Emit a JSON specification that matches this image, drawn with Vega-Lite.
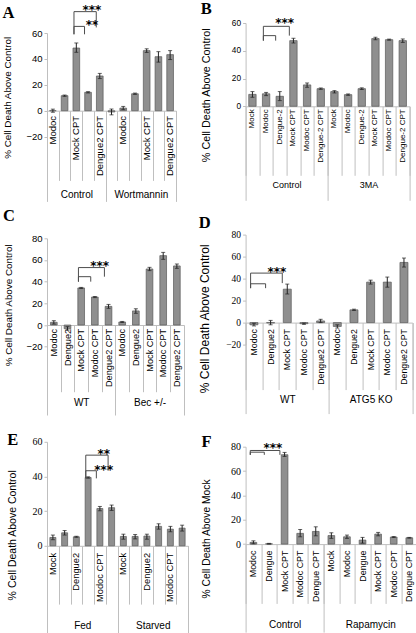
{
  "$schema": "https://vega.github.io/schema/vega-lite/v6.json",
  "background": "white",
  "padding": {"left": 2, "top": 0, "right": 0, "bottom": 0},
  "spacing": 9.6,
  "datasets": {
    "A": [
      {"k": "Control|Modoc", "v": 0, "lo": -1.2, "hi": 1.2},
      {"k": "Control|Dengue2", "v": 11.6, "lo": 11.1, "hi": 12.1},
      {"k": "Control|Mock CPT", "v": 48.4, "lo": 45.1, "hi": 52.3},
      {"k": "Control|Modoc CPT", "v": 14.2, "lo": 13.7, "hi": 14.7},
      {"k": "Control|Dengue2 CPT", "v": 26.8, "lo": 24.8, "hi": 28.8},
      {"k": "Wortmannin|Mock", "v": -1, "lo": -3.2, "hi": 1.3},
      {"k": "Wortmannin|Modoc", "v": 2, "lo": 0.8, "hi": 3.3},
      {"k": "Wortmannin|Dengue2", "v": 13.1, "lo": 12.6, "hi": 13.6},
      {"k": "Wortmannin|Mock CPT", "v": 46.4, "lo": 45, "hi": 47.8},
      {"k": "Wortmannin|Modoc CPT", "v": 41.7, "lo": 37.5, "hi": 45.6},
      {"k": "Wortmannin|Dengue2 CPT", "v": 43.3, "lo": 39.5, "hi": 46.4}
    ],
    "Abr": [
      {"from": "Control|Mock CPT", "to": "Control|Dengue2 CPT", "at": "Control|Dengue2 CPT", "top": 76.5, "lb": 59, "rb": 64.3, "s": "***"},
      {"from": "Control|Mock CPT", "to": "Control|Modoc CPT", "at": "Control|Dengue2 CPT", "top": 65.1, "lb": 59, "rb": 59, "s": "**"}
    ],
    "B": [
      {"k": "Control|Mock", "v": 8.6, "lo": 6.5, "hi": 10.6},
      {"k": "Control|Modoc", "v": 9, "lo": 7.7, "hi": 10},
      {"k": "Control|Dengue-2", "v": 7.2, "lo": 4.1, "hi": 10.6},
      {"k": "Control|Mock CPT", "v": 47.3, "lo": 45.6, "hi": 49},
      {"k": "Control|Modoc CPT", "v": 15.4, "lo": 13.7, "hi": 16.8},
      {"k": "Control|Dengue-2 CPT", "v": 12.7, "lo": 12.2, "hi": 13.2},
      {"k": "3MA|Mock", "v": 10.6, "lo": 9.6, "hi": 11.3},
      {"k": "3MA|Modoc", "v": 8.4, "lo": 7.9, "hi": 8.9},
      {"k": "3MA|Dengue-2", "v": 12.7, "lo": 12.1, "hi": 13.3},
      {"k": "3MA|Mock CPT", "v": 48.8, "lo": 48, "hi": 49.7},
      {"k": "3MA|Modoc CPT", "v": 48, "lo": 47.6, "hi": 48.4},
      {"k": "3MA|Dengue-2 CPT", "v": 47.3, "lo": 46, "hi": 48.5}
    ],
    "Bbr": [
      {"from": "Control|Modoc", "to": "Control|Mock CPT", "at": "Control|Mock CPT", "top": 57.6, "lb": 47.3, "rb": 50.9, "s": "***"},
      {"from": "Control|Modoc", "to": "Control|Dengue-2", "at": "Control|Mock CPT", "top": 50.9, "lb": 47.3, "rb": 47.3, "s": ""}
    ],
    "C": [
      {"k": "WT|Modoc", "v": 2.5, "lo": 0.9, "hi": 4},
      {"k": "WT|Dengue2", "v": -3.4, "lo": -4.6, "hi": -1.5},
      {"k": "WT|Mock CPT", "v": 34.2, "lo": 33.7, "hi": 34.7},
      {"k": "WT|Modoc CPT", "v": 25.8, "lo": 25.3, "hi": 26.3},
      {"k": "WT|Dengue2 CPT", "v": 17.2, "lo": 15.4, "hi": 19},
      {"k": "Bec +/-|Modoc", "v": 2.8, "lo": 2.3, "hi": 3.3},
      {"k": "Bec +/-|Dengue2", "v": 13, "lo": 10.8, "hi": 15},
      {"k": "Bec +/-|Mock CPT", "v": 51.7, "lo": 50.2, "hi": 53.2},
      {"k": "Bec +/-|Modoc CPT", "v": 64, "lo": 60.6, "hi": 67},
      {"k": "Bec +/-|Dengue2 CPT", "v": 54.5, "lo": 52.3, "hi": 56.3}
    ],
    "Cbr": [
      {"from": "WT|Mock CPT", "to": "WT|Dengue2 CPT", "at": "WT|Dengue2 CPT", "top": 53, "lb": 40, "rb": 44.6, "s": "***"},
      {"from": "WT|Mock CPT", "to": "WT|Modoc CPT", "at": "WT|Dengue2 CPT", "top": 44.6, "lb": 40, "rb": 40, "s": ""}
    ],
    "D": [
      {"k": "WT|Modoc", "v": -2, "lo": -3, "hi": -0.6},
      {"k": "WT|Dengue2", "v": -0.3, "lo": -2, "hi": 2},
      {"k": "WT|Mock CPT", "v": 30.4, "lo": 26, "hi": 35},
      {"k": "WT|Modoc CPT", "v": -1, "lo": -1.6, "hi": -0.4},
      {"k": "WT|Dengue2 CPT", "v": 1.5, "lo": 0, "hi": 3},
      {"k": "ATG5 KO|Modoc", "v": -3.5, "lo": -5, "hi": -2},
      {"k": "ATG5 KO|Dengue2", "v": 11.6, "lo": 11, "hi": 12.2},
      {"k": "ATG5 KO|Mock CPT", "v": 36.8, "lo": 35, "hi": 38.6},
      {"k": "ATG5 KO|Modoc CPT", "v": 36.8, "lo": 32.2, "hi": 41.4},
      {"k": "ATG5 KO|Dengue2 CPT", "v": 54.7, "lo": 50.5, "hi": 58.7}
    ],
    "Dbr": [
      {"from": "WT|Modoc", "to": "WT|Mock CPT", "at": "WT|Mock CPT", "top": 45, "lb": 31.3, "rb": 35.9, "s": "***"},
      {"from": "WT|Modoc", "to": "WT|Dengue2", "at": "WT|Mock CPT", "top": 35.3, "lb": 31.3, "rb": 31.3, "s": ""}
    ],
    "E": [
      {"k": "Fed|Mock", "v": 4.8, "lo": 3.5, "hi": 6.2},
      {"k": "Fed|Modoc", "v": 7.5, "lo": 6.2, "hi": 8.8},
      {"k": "Fed|Dengue2", "v": 5.2, "lo": 4.9, "hi": 5.5},
      {"k": "Fed|Mock CPT", "v": 39.4, "lo": 39, "hi": 39.8},
      {"k": "Fed|Modoc CPT", "v": 21.5, "lo": 20.2, "hi": 22.7},
      {"k": "Fed|Dengue2 CPT", "v": 22, "lo": 20.4, "hi": 23.5},
      {"k": "Starved|Mock", "v": 5.4, "lo": 3.8, "hi": 6.7},
      {"k": "Starved|Modoc", "v": 5.4, "lo": 4, "hi": 6.5},
      {"k": "Starved|Dengue2", "v": 5.6, "lo": 3.8, "hi": 6.7},
      {"k": "Starved|Mock CPT", "v": 11.2, "lo": 9.6, "hi": 12.7},
      {"k": "Starved|Modoc CPT", "v": 9.6, "lo": 8.1, "hi": 11.2},
      {"k": "Starved|Dengue2 CPT", "v": 10.2, "lo": 8.5, "hi": 11.9}
    ],
    "Ebr": [
      {"from": "Fed|Mock CPT", "to": "Fed|Dengue2 CPT", "at": "Fed|Dengue2 CPT", "top": 52.3, "lb": 38.9, "rb": 43.3, "s": "**"},
      {"from": "Fed|Mock CPT", "to": "Fed|Modoc CPT", "at": "Fed|Dengue2 CPT", "top": 43.3, "lb": 38.9, "rb": 38.9, "s": "***"}
    ],
    "F": [
      {"k": "Control|Modoc", "v": 1.4, "lo": 0.3, "hi": 2.7},
      {"k": "Control|Dengue", "v": 0.3, "lo": 0, "hi": 0.6},
      {"k": "Control|Mock CPT", "v": 73.4, "lo": 72, "hi": 75.3},
      {"k": "Control|Modoc CPT", "v": 8.8, "lo": 6, "hi": 12},
      {"k": "Control|Dengue CPT", "v": 10.4, "lo": 6.8, "hi": 14.2},
      {"k": "Rapamycin|Mock", "v": 7, "lo": 4.7, "hi": 9.3},
      {"k": "Rapamycin|Modoc", "v": 6, "lo": 4.7, "hi": 7.4},
      {"k": "Rapamycin|Dengue", "v": 3.3, "lo": 0.8, "hi": 5.5},
      {"k": "Rapamycin|Mock CPT", "v": 8.2, "lo": 6.8, "hi": 9.6},
      {"k": "Rapamycin|Modoc CPT", "v": 5.8, "lo": 5.4, "hi": 6.2},
      {"k": "Rapamycin|Dengue CPT", "v": 5.2, "lo": 4.9, "hi": 5.5}
    ],
    "Fbr": [
      {"from": "Control|Modoc", "to": "Control|Mock CPT", "at": "Control|Mock CPT", "top": 76.9, "lb": 73.3, "rb": 73.3, "s": "***"},
      {"from": "Control|Modoc", "to": "Control|Dengue", "at": "Control|Mock CPT", "top": 75.5, "lb": 73.3, "rb": 73.3, "s": ""}
    ]
  },
  "hconcat": [
    {
      "spacing": 5.3,
      "vconcat": [
        {
          "title": {"text": "A", "offset": -17.7},
          "width": 129, "height": 103.6,
          "resolve": {"axis": {"x": "independent", "y": "independent"}},
          "layer": [
            {"data": {"name": "A"},
             "mark": {"type": "bar", "width": {"band": 0.57}, "fill": "#8f8f8f", "stroke": "#595959", "strokeWidth": 0.7},
             "encoding": {
               "x": {"field": "k", "type": "nominal",
                 "scale": {"domain": ["Control|Modoc","Control|Dengue2","Control|Mock CPT","Control|Modoc CPT","Control|Dengue2 CPT","Wortmannin|Mock","Wortmannin|Modoc","Wortmannin|Dengue2","Wortmannin|Mock CPT","Wortmannin|Modoc CPT","Wortmannin|Dengue2 CPT"], "paddingInner": 0, "paddingOuter": 0},
                 "axis": {"title": null, "orient": "bottom", "offset": -25.9, "ticks": false, "labelAngle": -90, "labelPadding": 4.7, "labelFontSize": 9.5,
                   "labelExpr": "indexof(['Control|Dengue2','Control|Modoc CPT','Wortmannin|Mock','Wortmannin|Dengue2','Wortmannin|Modoc CPT'], datum.value) >= 0 ? '' : split(datum.value, '|')[1]"}},
               "y": {"field": "v", "type": "quantitative", "scale": {"domain": [-20, 60], "nice": false},
                 "axis": {"title": "% Cell Death Above Control", "orient": "left", "values": [-20, 0, 20, 40, 60], "tickSize": 3, "labelPadding": 2, "labelFontSize": 9.5, "titleFontSize": 9.85, "titleY": 64.3, "titlePadding": 13.5}}
             }},
            {"data": {"name": "A"},
             "mark": {"type": "errorbar", "ticks": {"size": 4}, "color": "#222222"},
             "encoding": {
               "x": {"field": "k", "type": "nominal", "axis": {"title": null, "orient": "bottom", "offset": -25.9, "labels": false, "domain": false, "tickBand": "extent", "tickSize": 69.7}},
               "y": {"field": "lo", "type": "quantitative", "axis": null},
               "y2": {"field": "hi"}
             }},
            {"data": {"name": "Abr"},
             "mark": {"type": "rule", "color": "#4d4d4d"},
             "encoding": {
               "x": {"field": "from", "type": "nominal", "bandPosition": 0.3, "axis": null},
               "x2": {"field": "to", "bandPosition": 0.2},
               "y": {"field": "top", "type": "quantitative", "axis": null}
             }},
            {"data": {"name": "Abr"},
             "mark": {"type": "rule", "color": "#4d4d4d"},
             "encoding": {
               "x": {"field": "from", "type": "nominal", "bandPosition": 0.3, "axis": null},
               "y": {"field": "top", "type": "quantitative", "axis": null},
               "y2": {"field": "lb"}
             }},
            {"data": {"name": "Abr"},
             "mark": {"type": "rule", "color": "#4d4d4d"},
             "encoding": {
               "x": {"field": "to", "type": "nominal", "bandPosition": 0.2, "axis": null},
               "y": {"field": "top", "type": "quantitative", "axis": null},
               "y2": {"field": "rb"}
             }},
            {"data": {"name": "Abr"},
             "mark": {"type": "text", "font": "DejaVu Sans", "fontSize": 12, "fontWeight": "bold", "baseline": "alphabetic", "align": "center", "dy": 2.4, "dx": -2, "fill": "#000000"},
             "encoding": {
               "x": {"field": "at", "type": "nominal", "bandPosition": 0,
                 "axis": {"title": null, "orient": "bottom", "offset": -25.9, "domain": false, "tickBand": "extent", "tickSize": 90.7,
                   "tickOpacity": {"condition": {"test": "datum.index < 0 || !isValid(datum.value) || datum.value === 'Control|Dengue2 CPT' || datum.value === 'Wortmannin|Dengue2 CPT'", "value": 1}, "value": 0},
                   "labelAngle": 0, "labelAlign": "center", "labelBaseline": "top", "labelPadding": -12, "labelFontSize": 10,
                   "labelOffset": {"condition": {"test": "datum.value === 'Wortmannin|Mock CPT'", "value": -5.86}, "value": 0},
                   "labelExpr": "indexof(['Control|Mock CPT','Wortmannin|Mock CPT'], datum.value) >= 0 ? split(datum.value, '|')[0] : ''"}},
               "y": {"field": "top", "type": "quantitative", "axis": null},
               "text": {"field": "s"}
             }}
          ]
        },
        {
          "spacing": 15.5,
          "vconcat": [
            {
              "title": {"text": "C", "offset": 9.05},
              "width": 136.7, "height": 108.4,
              "resolve": {"axis": {"x": "independent", "y": "independent"}},
              "layer": [
                {"data": {"name": "C"},
                 "mark": {"type": "bar", "width": {"band": 0.49}, "fill": "#8f8f8f", "stroke": "#595959", "strokeWidth": 0.7},
                 "encoding": {
                   "x": {"field": "k", "type": "nominal",
                     "scale": {"domain": ["WT|Modoc","WT|Dengue2","WT|Mock CPT","WT|Modoc CPT","WT|Dengue2 CPT","Bec +/-|Modoc","Bec +/-|Dengue2","Bec +/-|Mock CPT","Bec +/-|Modoc CPT","Bec +/-|Dengue2 CPT"], "paddingInner": 0, "paddingOuter": 0},
                     "axis": {"title": null, "orient": "bottom", "offset": -21.7, "ticks": false, "labelAngle": -90, "labelPadding": 3.3, "labelFontSize": 9.2,
                       "labelExpr": "split(datum.value, '|')[1]"}},
                   "y": {"field": "v", "type": "quantitative", "scale": {"domain": [-20, 80], "nice": false},
                     "axis": {"title": "% Cell Death Above Control", "orient": "left", "values": [-20, 0, 20, 40, 60, 80], "tickSize": 3, "labelPadding": 2, "labelFontSize": 9.5, "titleFontSize": 9.85, "titleY": 66.5, "titlePadding": 12.8}}
                 }},
                {"data": {"name": "C"},
                 "mark": {"type": "errorbar", "ticks": {"size": 4}, "color": "#222222"},
                 "encoding": {
                   "x": {"field": "k", "type": "nominal", "axis": {"title": null, "orient": "bottom", "offset": -21.7, "labels": false, "domain": false, "tickBand": "extent", "tickSize": 66.7}},
                   "y": {"field": "lo", "type": "quantitative", "axis": null},
                   "y2": {"field": "hi"}
                 }},
                {"data": {"name": "Cbr"},
                 "mark": {"type": "rule", "color": "#4d4d4d"},
                 "encoding": {
                   "x": {"field": "from", "type": "nominal", "bandPosition": 0.3, "axis": null},
                   "x2": {"field": "to", "bandPosition": 0.2},
                   "y": {"field": "top", "type": "quantitative", "axis": null}
                 }},
                {"data": {"name": "Cbr"},
                 "mark": {"type": "rule", "color": "#4d4d4d"},
                 "encoding": {
                   "x": {"field": "from", "type": "nominal", "bandPosition": 0.3, "axis": null},
                   "y": {"field": "top", "type": "quantitative", "axis": null},
                   "y2": {"field": "lb"}
                 }},
                {"data": {"name": "Cbr"},
                 "mark": {"type": "rule", "color": "#4d4d4d"},
                 "encoding": {
                   "x": {"field": "to", "type": "nominal", "bandPosition": 0.2, "axis": null},
                   "y": {"field": "top", "type": "quantitative", "axis": null},
                   "y2": {"field": "rb"}
                 }},
                {"data": {"name": "Cbr"},
                 "mark": {"type": "text", "font": "DejaVu Sans", "fontSize": 12, "fontWeight": "bold", "baseline": "alphabetic", "align": "center", "dy": 2, "dx": -2, "fill": "#000000"},
                 "encoding": {
                   "x": {"field": "at", "type": "nominal", "bandPosition": 0,
                     "axis": {"title": null, "orient": "bottom", "offset": -21.7, "domain": false, "tickBand": "extent", "tickSize": 90,
                       "tickOpacity": {"condition": {"test": "datum.index < 0 || !isValid(datum.value) || datum.value === 'WT|Dengue2 CPT' || datum.value === 'Bec +/-|Dengue2 CPT'", "value": 1}, "value": 0},
                       "labelAngle": 0, "labelAlign": "center", "labelBaseline": "top", "labelPadding": -17.3, "labelFontSize": 10,
                       "labelExpr": "indexof(['WT|Mock CPT','Bec +/-|Mock CPT'], datum.value) >= 0 ? split(datum.value, '|')[0] : ''"}},
                   "y": {"field": "top", "type": "quantitative", "axis": null},
                   "text": {"field": "s"}
                 }}
              ]
            },
            {
              "title": {"text": "E", "offset": -11.8},
              "width": 141, "height": 104,
              "resolve": {"axis": {"x": "independent", "y": "independent"}},
              "layer": [
                {"data": {"name": "E"},
                 "mark": {"type": "bar", "width": {"band": 0.51}, "fill": "#8f8f8f", "stroke": "#595959", "strokeWidth": 0.7},
                 "encoding": {
                   "x": {"field": "k", "type": "nominal",
                     "scale": {"domain": ["Fed|Mock","Fed|Modoc","Fed|Dengue2","Fed|Mock CPT","Fed|Modoc CPT","Fed|Dengue2 CPT","Starved|Mock","Starved|Modoc","Starved|Dengue2","Starved|Mock CPT","Starved|Modoc CPT","Starved|Dengue2 CPT"], "paddingInner": 0, "paddingOuter": 0},
                     "axis": {"title": null, "orient": "bottom", "offset": 0, "ticks": false, "labelAngle": -90, "labelPadding": 6.6, "labelFontSize": 9.3,
                       "labelExpr": "indexof(['Fed|Modoc','Fed|Mock CPT','Fed|Dengue2 CPT','Starved|Modoc','Starved|Mock CPT','Starved|Dengue2 CPT'], datum.value) >= 0 ? '' : split(datum.value, '|')[1]"}},
                   "y": {"field": "v", "type": "quantitative", "scale": {"domain": [0, 60], "nice": false},
                     "axis": {"title": "% Cell Death Above Control", "orient": "left", "values": [0, 20, 40, 60], "tickSize": 3, "labelPadding": 2, "labelFont": "Liberation Serif", "labelFontSize": 10, "titleFontSize": 10.5, "titleY": 93, "titlePadding": 14.8}}
                 }},
                {"data": {"name": "E"},
                 "mark": {"type": "errorbar", "ticks": {"size": 4}, "color": "#222222"},
                 "encoding": {
                   "x": {"field": "k", "type": "nominal", "axis": {"title": null, "orient": "bottom", "offset": 0, "labels": false, "domain": false, "tickBand": "extent", "tickSize": 58.3}},
                   "y": {"field": "lo", "type": "quantitative", "axis": null},
                   "y2": {"field": "hi"}
                 }},
                {"data": {"name": "Ebr"},
                 "mark": {"type": "rule", "color": "#4d4d4d"},
                 "encoding": {
                   "x": {"field": "from", "type": "nominal", "bandPosition": 0.3, "axis": null},
                   "x2": {"field": "to", "bandPosition": 0.2},
                   "y": {"field": "top", "type": "quantitative", "axis": null}
                 }},
                {"data": {"name": "Ebr"},
                 "mark": {"type": "rule", "color": "#4d4d4d"},
                 "encoding": {
                   "x": {"field": "from", "type": "nominal", "bandPosition": 0.3, "axis": null},
                   "y": {"field": "top", "type": "quantitative", "axis": null},
                   "y2": {"field": "lb"}
                 }},
                {"data": {"name": "Ebr"},
                 "mark": {"type": "rule", "color": "#4d4d4d"},
                 "encoding": {
                   "x": {"field": "to", "type": "nominal", "bandPosition": 0.2, "axis": null},
                   "y": {"field": "top", "type": "quantitative", "axis": null},
                   "y2": {"field": "rb"}
                 }},
                {"data": {"name": "Ebr"},
                 "mark": {"type": "text", "font": "DejaVu Sans", "fontSize": 12, "fontWeight": "bold", "baseline": "alphabetic", "align": "center", "dy": 3, "dx": -2, "fill": "#000000"},
                 "encoding": {
                   "x": {"field": "at", "type": "nominal", "bandPosition": 0,
                     "axis": {"title": null, "orient": "bottom", "offset": 0, "domain": false, "tickBand": "extent", "tickSize": 90,
                       "tickOpacity": {"condition": {"test": "datum.index < 0 || !isValid(datum.value) || datum.value === 'Fed|Dengue2 CPT' || datum.value === 'Starved|Dengue2 CPT'", "value": 1}, "value": 0},
                       "labelAngle": 0, "labelAlign": "center", "labelBaseline": "top", "labelPadding": -15.4, "labelFontSize": 10,
                       "labelOffset": -5.875,
                       "labelExpr": "indexof(['Fed|Mock CPT','Starved|Mock CPT'], datum.value) >= 0 ? split(datum.value, '|')[0] : ''"}},
                   "y": {"field": "top", "type": "quantitative", "axis": null},
                   "text": {"field": "s"}
                 }}
              ]
            }
          ]
        }
      ]
    },
    {
      "spacing": 13.6,
      "vconcat": [
        {
          "title": {"text": "B", "offset": 0.1},
          "width": 164, "height": 73.3,
          "resolve": {"axis": {"x": "independent", "y": "independent"}},
          "layer": [
            {"data": {"name": "B"},
             "mark": {"type": "bar", "width": {"band": 0.54}, "fill": "#8f8f8f", "stroke": "#595959", "strokeWidth": 0.7},
             "encoding": {
               "x": {"field": "k", "type": "nominal",
                 "scale": {"domain": ["Control|Mock","Control|Modoc","Control|Dengue-2","Control|Mock CPT","Control|Modoc CPT","Control|Dengue-2 CPT","3MA|Mock","3MA|Modoc","3MA|Dengue-2","3MA|Mock CPT","3MA|Modoc CPT","3MA|Dengue-2 CPT"], "paddingInner": 0, "paddingOuter": 0},
                 "axis": {"title": null, "orient": "bottom", "offset": 0, "ticks": false, "labelAngle": -90, "labelPadding": 2.5, "labelFontSize": 8,
                   "labelExpr": "split(datum.value, '|')[1]"}},
               "y": {"field": "v", "type": "quantitative", "scale": {"domain": [0, 60], "nice": false, "range": [73.3, -10]},
                 "axis": {"title": "% Cell Death Above Control", "orient": "left", "values": [0, 20, 40, 60], "tickSize": 3, "labelPadding": 2, "labelFontSize": 8.3, "titleFontSize": 10.8, "titleY": 61.8, "titlePadding": 19.7}}
             }},
            {"data": {"name": "B"},
             "mark": {"type": "errorbar", "ticks": {"size": 4}, "color": "#222222"},
             "encoding": {
               "x": {"field": "k", "type": "nominal", "axis": {"title": null, "orient": "bottom", "offset": 0, "labels": false, "domain": false, "tickBand": "extent", "tickSize": 69}},
               "y": {"field": "lo", "type": "quantitative", "axis": null},
               "y2": {"field": "hi"}
             }},
            {"data": {"name": "Bbr"},
             "mark": {"type": "rule", "color": "#4d4d4d"},
             "encoding": {
               "x": {"field": "from", "type": "nominal", "bandPosition": 0.3, "axis": null},
               "x2": {"field": "to", "bandPosition": 0.2},
               "y": {"field": "top", "type": "quantitative", "axis": null}
             }},
            {"data": {"name": "Bbr"},
             "mark": {"type": "rule", "color": "#4d4d4d"},
             "encoding": {
               "x": {"field": "from", "type": "nominal", "bandPosition": 0.3, "axis": null},
               "y": {"field": "top", "type": "quantitative", "axis": null},
               "y2": {"field": "lb"}
             }},
            {"data": {"name": "Bbr"},
             "mark": {"type": "rule", "color": "#4d4d4d"},
             "encoding": {
               "x": {"field": "to", "type": "nominal", "bandPosition": 0.2, "axis": null},
               "y": {"field": "top", "type": "quantitative", "axis": null},
               "y2": {"field": "rb"}
             }},
            {"data": {"name": "Bbr"},
             "mark": {"type": "text", "font": "DejaVu Sans", "fontSize": 12, "fontWeight": "bold", "baseline": "alphabetic", "align": "center", "dy": 1, "dx": -2, "fill": "#000000"},
             "encoding": {
               "x": {"field": "at", "type": "nominal", "bandPosition": 0,
                 "axis": {"title": null, "orient": "bottom", "offset": 0, "domain": false, "tickBand": "extent", "tickSize": 94,
                   "tickOpacity": {"condition": {"test": "datum.index < 0 || !isValid(datum.value) || datum.value === 'Control|Dengue-2 CPT' || datum.value === '3MA|Dengue-2 CPT'", "value": 1}, "value": 0},
                   "labelAngle": 0, "labelAlign": "center", "labelBaseline": "top", "labelPadding": -19.8, "labelFontSize": 9,
                   "labelOffset": -6.83,
                   "labelExpr": "indexof(['Control|Mock CPT','3MA|Mock CPT'], datum.value) >= 0 ? split(datum.value, '|')[0] : ''"}},
               "y": {"field": "top", "type": "quantitative", "axis": null},
               "text": {"field": "s"}
             }}
          ]
        },
        {
          "spacing": 19.1,
          "vconcat": [
            {
              "title": {"text": "D", "offset": -1.95},
              "width": 166.7, "height": 110,
              "resolve": {"axis": {"x": "independent", "y": "independent"}},
              "layer": [
                {"data": {"name": "D"},
                 "mark": {"type": "bar", "width": {"band": 0.48}, "fill": "#8f8f8f", "stroke": "#595959", "strokeWidth": 0.7},
                 "encoding": {
                   "x": {"field": "k", "type": "nominal",
                     "scale": {"domain": ["WT|Modoc","WT|Dengue2","WT|Mock CPT","WT|Modoc CPT","WT|Dengue2 CPT","ATG5 KO|Modoc","ATG5 KO|Dengue2","ATG5 KO|Mock CPT","ATG5 KO|Modoc CPT","ATG5 KO|Dengue2 CPT"], "paddingInner": 0, "paddingOuter": 0},
                     "axis": {"title": null, "orient": "bottom", "offset": -22, "ticks": false, "labelAngle": -90, "labelPadding": 6, "labelFontSize": 8.8,
                       "labelExpr": "split(datum.value, '|')[1]"}},
                   "y": {"field": "v", "type": "quantitative", "scale": {"domain": [-20, 80], "nice": false},
                     "axis": {"title": "% Cell Death Above Control", "orient": "left", "values": [-20, 0, 20, 40, 60, 80], "tickSize": 3, "labelPadding": 2, "labelFont": "Liberation Serif", "labelFontSize": 9.5, "titleFontSize": 12, "titleY": 83.7, "titlePadding": 14}}
                 }},
                {"data": {"name": "D"},
                 "mark": {"type": "errorbar", "ticks": {"size": 4}, "color": "#222222"},
                 "encoding": {
                   "x": {"field": "k", "type": "nominal", "axis": {"title": null, "orient": "bottom", "offset": -22, "labels": false, "domain": false, "tickBand": "extent", "tickSize": 67}},
                   "y": {"field": "lo", "type": "quantitative", "axis": null},
                   "y2": {"field": "hi"}
                 }},
                {"data": {"name": "Dbr"},
                 "mark": {"type": "rule", "color": "#4d4d4d"},
                 "encoding": {
                   "x": {"field": "from", "type": "nominal", "bandPosition": 0.3, "axis": null},
                   "x2": {"field": "to", "bandPosition": 0.2},
                   "y": {"field": "top", "type": "quantitative", "axis": null}
                 }},
                {"data": {"name": "Dbr"},
                 "mark": {"type": "rule", "color": "#4d4d4d"},
                 "encoding": {
                   "x": {"field": "from", "type": "nominal", "bandPosition": 0.3, "axis": null},
                   "y": {"field": "top", "type": "quantitative", "axis": null},
                   "y2": {"field": "lb"}
                 }},
                {"data": {"name": "Dbr"},
                 "mark": {"type": "rule", "color": "#4d4d4d"},
                 "encoding": {
                   "x": {"field": "to", "type": "nominal", "bandPosition": 0.2, "axis": null},
                   "y": {"field": "top", "type": "quantitative", "axis": null},
                   "y2": {"field": "rb"}
                 }},
                {"data": {"name": "Dbr"},
                 "mark": {"type": "text", "font": "DejaVu Sans", "fontSize": 12, "fontWeight": "bold", "baseline": "alphabetic", "align": "center", "dy": 3, "dx": -2, "fill": "#000000"},
                 "encoding": {
                   "x": {"field": "at", "type": "nominal", "bandPosition": 0,
                     "axis": {"title": null, "orient": "bottom", "offset": -22, "domain": false, "tickBand": "extent", "tickSize": 91,
                       "tickOpacity": {"condition": {"test": "datum.index < 0 || !isValid(datum.value) || datum.value === 'WT|Dengue2 CPT' || datum.value === 'ATG5 KO|Dengue2 CPT'", "value": 1}, "value": 0},
                       "labelAngle": 0, "labelAlign": "center", "labelBaseline": "top", "labelPadding": -18.7, "labelFontSize": 10,
                       "labelExpr": "indexof(['WT|Mock CPT','ATG5 KO|Mock CPT'], datum.value) >= 0 ? split(datum.value, '|')[0] : ''"}},
                   "y": {"field": "top", "type": "quantitative", "axis": null},
                   "text": {"field": "s"}
                 }}
              ]
            },
            {
              "title": {"text": "F", "offset": -9},
              "width": 171.5, "height": 97.4,
              "resolve": {"axis": {"x": "independent", "y": "independent"}},
              "layer": [
                {"data": {"name": "F"},
                 "mark": {"type": "bar", "width": {"band": 0.43}, "fill": "#8f8f8f", "stroke": "#595959", "strokeWidth": 0.7},
                 "encoding": {
                   "x": {"field": "k", "type": "nominal",
                     "scale": {"domain": ["Control|Modoc","Control|Dengue","Control|Mock CPT","Control|Modoc CPT","Control|Dengue CPT","Rapamycin|Mock","Rapamycin|Modoc","Rapamycin|Dengue","Rapamycin|Mock CPT","Rapamycin|Modoc CPT","Rapamycin|Dengue CPT"], "paddingInner": 0, "paddingOuter": 0},
                     "axis": {"title": null, "orient": "bottom", "offset": 0, "ticks": false, "labelAngle": -90, "labelPadding": 6, "labelFontSize": 8.9,
                       "labelExpr": "split(datum.value, '|')[1]"}},
                   "y": {"field": "v", "type": "quantitative", "scale": {"domain": [0, 80], "nice": false},
                     "axis": {"title": "% Cell Death Above Mock", "orient": "left", "values": [0, 20, 40, 60, 80], "tickSize": 3, "labelPadding": 2, "labelFont": "Liberation Serif", "labelFontSize": 10, "titleFontSize": 10.3, "titleY": 91.7, "titlePadding": 19}}
                 }},
                {"data": {"name": "F"},
                 "mark": {"type": "errorbar", "ticks": {"size": 4}, "color": "#222222"},
                 "encoding": {
                   "x": {"field": "k", "type": "nominal", "axis": {"title": null, "orient": "bottom", "offset": 0, "labels": false, "domain": false, "tickBand": "extent", "tickSize": 59.3}},
                   "y": {"field": "lo", "type": "quantitative", "axis": null},
                   "y2": {"field": "hi"}
                 }},
                {"data": {"name": "Fbr"},
                 "mark": {"type": "rule", "color": "#4d4d4d"},
                 "encoding": {
                   "x": {"field": "from", "type": "nominal", "bandPosition": 0.3, "axis": null},
                   "x2": {"field": "to", "bandPosition": 0.2},
                   "y": {"field": "top", "type": "quantitative", "axis": null}
                 }},
                {"data": {"name": "Fbr"},
                 "mark": {"type": "rule", "color": "#4d4d4d"},
                 "encoding": {
                   "x": {"field": "from", "type": "nominal", "bandPosition": 0.3, "axis": null},
                   "y": {"field": "top", "type": "quantitative", "axis": null},
                   "y2": {"field": "lb"}
                 }},
                {"data": {"name": "Fbr"},
                 "mark": {"type": "rule", "color": "#4d4d4d"},
                 "encoding": {
                   "x": {"field": "to", "type": "nominal", "bandPosition": 0.2, "axis": null},
                   "y": {"field": "top", "type": "quantitative", "axis": null},
                   "y2": {"field": "rb"}
                 }},
                {"data": {"name": "Fbr"},
                 "mark": {"type": "text", "font": "DejaVu Sans", "fontSize": 12, "fontWeight": "bold", "baseline": "alphabetic", "align": "center", "dy": 2, "dx": -4, "fill": "#000000"},
                 "encoding": {
                   "x": {"field": "at", "type": "nominal", "bandPosition": 0,
                     "axis": {"title": null, "orient": "bottom", "offset": 0, "domain": false, "tickBand": "extent", "tickSize": 88,
                       "tickOpacity": {"condition": {"test": "datum.index < 0 || !isValid(datum.value) || datum.value === 'Control|Dengue CPT' || datum.value === 'Rapamycin|Dengue CPT'", "value": 1}, "value": 0},
                       "labelAngle": 0, "labelAlign": "center", "labelBaseline": "top", "labelPadding": -12.7, "labelFontSize": 10,
                       "labelOffset": {"condition": {"test": "datum.value === 'Rapamycin|Mock CPT'", "value": -7.8}, "value": 0},
                       "labelExpr": "indexof(['Control|Mock CPT','Rapamycin|Mock CPT'], datum.value) >= 0 ? split(datum.value, '|')[0] : ''"}},
                   "y": {"field": "top", "type": "quantitative", "axis": null},
                   "text": {"field": "s"}
                 }}
              ]
            }
          ]
        }
      ]
    }
  ],
  "config": {
    "view": {"stroke": null},
    "axis": {"labelFont": "Liberation Sans", "titleFont": "Liberation Sans", "labelColor": "#000000", "titleColor": "#000000", "titleFontWeight": "normal", "domainColor": "#bfbfbf", "tickColor": "#bfbfbf", "grid": false, "labelOverlap": false},
    "title": {"font": "Liberation Serif", "fontSize": 16.5, "fontWeight": "bold", "anchor": "start", "frame": "bounds", "color": "#000000"}
  }
}
